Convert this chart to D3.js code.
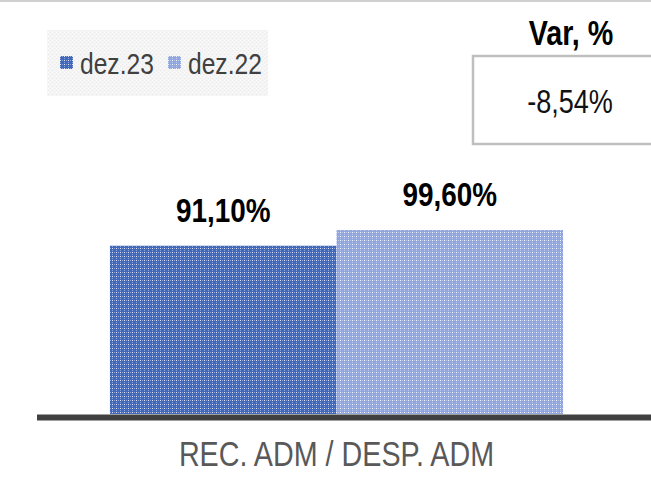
<!DOCTYPE html>
<html>
<head>
<meta charset="utf-8">
<script src="https://cdn.jsdelivr.net/npm/d3@7"></script>
<style>
html,body{margin:0;padding:0;background:#fff;}
svg{display:block;}
text{font-family:"Liberation Sans",Arial,sans-serif;}
</style>
</head>
<body>
<svg id="chart" width="651" height="481"></svg>
<script>
const categories = ["REC. ADM / DESP. ADM"];
const seriesNames = ["dez.23", "dez.22"];
const seriesValues = [[91.10], [99.60]];
const valueLabels = [["91,10%"], ["99,60%"]];
const varTitle = "Var, %";
const varValue = "-8,54%";

const W = 651, H = 481;
const NARROW = 0.82;
const svg = d3.select("#chart");
const defs = svg.append("defs");

function makePattern(id, base, mid, light) {
  const p = defs.append("pattern").attr("id", id)
    .attr("patternUnits", "userSpaceOnUse").attr("width", 4).attr("height", 4);
  p.append("rect").attr("width", 4).attr("height", 4).attr("fill", base);
  p.append("rect").attr("x", 0).attr("y", 0).attr("width", 1).attr("height", 1).attr("fill", light);
  p.append("rect").attr("x", 2).attr("y", 0).attr("width", 1).attr("height", 1).attr("fill", mid);
  p.append("rect").attr("x", 0).attr("y", 2).attr("width", 1).attr("height", 1).attr("fill", mid);
}
makePattern("pat0", "#4268b9", "#8aa2d8", "#dfe6f6");
makePattern("pat1", "#91a6dc", "#bccaee", "#f2f5fc");
makePattern("patLeg", "#f5f5f5", "#ebebeb", "#fbfbfb");
const fills = ["url(#pat0)", "url(#pat1)"];

function ntext(parent, x, y, str, size, opts) {
  opts = opts || {};
  return parent.append("text")
    .attr("transform", "translate(" + x + "," + y + ") scale(" + NARROW + ",1)")
    .attr("text-anchor", opts.anchor || "start")
    .attr("font-size", size)
    .attr("font-weight", opts.bold ? "bold" : "normal")
    .attr("fill", opts.fill || "#000")
    .text(str);
}

// top border
svg.append("line").attr("x1", 0).attr("x2", W).attr("y1", 1).attr("y2", 1)
  .attr("stroke", "#d0d0d0").attr("stroke-width", 2);

// scales
const y = d3.scaleLinear().domain([0, 120]).range([414, 414 - 120 * 1.847]);
const x0 = d3.scaleBand().domain(categories).range([37, 636]).paddingInner(0).paddingOuter(0.161);
const x1 = d3.scaleBand().domain(seriesNames).range([0, x0.bandwidth()]).padding(0);

const g = svg.append("g");
categories.forEach((c, ci) => {
  seriesNames.forEach((s, si) => {
    const v = seriesValues[si][ci];
    const bx = x0(c) + x1(s);
    g.append("rect")
      .attr("x", bx).attr("y", y(v))
      .attr("width", x1.bandwidth()).attr("height", y(0) - y(v))
      .attr("fill", fills[si]);
    ntext(g, bx + x1.bandwidth() / 2, y(v) - 24, valueLabels[si][ci], 34,
      { anchor: "middle", bold: true, fill: "#000" });
  });
});

// x axis
const xAxis = d3.axisBottom(x0).tickSize(0).tickPadding(0);
const axG = svg.append("g").attr("transform", "translate(0," + y(0) + ")").call(xAxis);
axG.select(".domain").remove();
axG.append("line").attr("x1", 37).attr("x2", W).attr("y1", 3.5).attr("y2", 3.5)
  .attr("stroke", "#404040").attr("stroke-width", 6);
axG.selectAll(".tick text")
  .attr("dy", 0).attr("y", 0)
  .attr("transform", "translate(0,52) scale(" + NARROW + ",1)")
  .attr("font-size", 35).attr("fill", "#595959")
  .style("font-family", "'Liberation Sans',Arial,sans-serif");

// legend
const leg = svg.append("g");
leg.append("rect").attr("x", 47).attr("y", 30).attr("width", 221).attr("height", 66)
  .attr("fill", "url(#patLeg)");
const legX = [60, 168];
seriesNames.forEach((s, i) => {
  leg.append("rect").attr("x", legX[i]).attr("y", 56).attr("width", 13).attr("height", 13)
    .attr("fill", fills[i]);
  ntext(leg, legX[i] + 20, 74, s, 30, { fill: "#404040" });
});

// var box
ntext(svg, 571, 45, varTitle, 35, { anchor: "middle", bold: true, fill: "#000" });
svg.append("rect").attr("x", 473).attr("y", 56).attr("width", 200).attr("height", 88)
  .attr("fill", "#fff").attr("stroke", "#bfbfbf").attr("stroke-width", 2.5);
ntext(svg, 570, 113, varValue, 33, { anchor: "middle", fill: "#111" });
</script>
</body>
</html>
